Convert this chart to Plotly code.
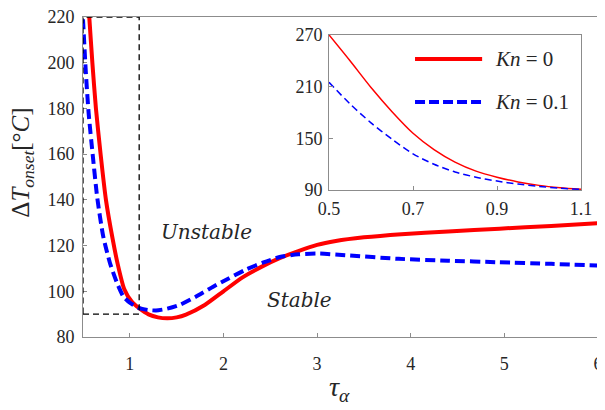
import plotly.graph_objects as go

# ---- data ----
tau_kn0 = [0.50, 0.53, 0.567, 0.60, 0.638, 0.688, 0.745, 0.816, 0.87, 0.94, 1.02, 1.10,
           1.20, 1.30, 1.40, 1.50, 1.60, 1.80, 2.00, 2.20, 2.42, 2.60, 2.80, 3.00, 3.20, 3.50,
           3.90, 4.40, 4.95, 5.50, 6.00]
dT_kn0 = [270, 244, 220, 200, 180, 160, 140, 123, 112, 101, 95.5, 92.6,
          89.9, 88.6, 88.2, 88.6, 89.8, 94, 100, 106, 111, 114.5, 117.6, 120.3, 122, 123.6,
          125, 126.2, 127.4, 128.6, 129.8]

tau_kn01 = [0.50, 0.53, 0.56, 0.603, 0.652, 0.716, 0.787, 0.86, 0.93, 1.00, 1.10,
            1.20, 1.28, 1.40, 1.53, 1.70, 1.89, 2.05, 2.24, 2.42, 2.60, 2.80, 3.02, 3.30,
            3.87, 4.40, 4.94, 5.50, 6.00]
dT_kn01 = [219, 196, 178, 160, 141, 124, 112.5, 104, 97.8, 95, 92.6,
           91.8, 91.6, 92.4, 94, 97.5, 102, 105.5, 109.5, 112.5, 115, 116.2, 116.5, 115.8,
           114.2, 113.4, 112.7, 112, 111.3]

inset_tau = [0.5, 0.55, 0.6, 0.65, 0.7, 0.75, 0.8, 0.85, 0.9, 0.95, 1.0, 1.05, 1.1]
inset_kn0 = [270, 240, 209, 181, 156, 137, 122.5, 112, 105, 99.5, 95.5, 92.8, 91]
inset_kn01 = [215, 190, 168, 149, 132, 120, 111, 105, 100.5, 97, 94.3, 92.2, 90.8]

main_xticks = [1, 2, 3, 4, 5, 6]
main_yticks = [80, 100, 120, 140, 160, 180, 200, 220]
inset_xticks = [0.5, 0.7, 0.9, 1.1]
inset_yticks = [90, 150, 210, 270]

zoom_box_x = [0.5, 1.1]
zoom_box_y = [90, 220]

legend_labels = ["<i>Kn</i> = 0", "<i>Kn</i> = 0.1"]
region_labels = ["<i>Unstable</i>", "<i>Stable</i>"]
region_pos = [(1.82, 125.8), (2.81, 96)]

RED = "#ff0000"
BLUE = "#0000ff"
AXC = "#8c8c8c"
TXT = "#262626"
SERIF = "'Liberation Serif', 'DejaVu Serif', 'Times New Roman', serif"
SERIF_WIDE = "'DejaVu Serif', 'Liberation Serif', serif"

fig = go.Figure()

# main curves
fig.add_trace(go.Scatter(x=tau_kn0, y=dT_kn0, mode="lines",
                         line=dict(color=RED, width=4, shape="spline", smoothing=0.6),
                         showlegend=False, xaxis="x", yaxis="y"))
fig.add_trace(go.Scatter(x=tau_kn01, y=dT_kn01, mode="lines",
                         line=dict(color=BLUE, width=4, dash="10px,5px", shape="spline", smoothing=0.6),
                         showlegend=False, xaxis="x", yaxis="y"))

# inset curves
fig.add_trace(go.Scatter(x=inset_tau, y=inset_kn0, mode="lines",
                         line=dict(color=RED, width=1.5, shape="spline", smoothing=0.8),
                         showlegend=False, xaxis="x2", yaxis="y2"))
fig.add_trace(go.Scatter(x=inset_tau, y=inset_kn01, mode="lines",
                         line=dict(color=BLUE, width=1.5, dash="7px,4px", shape="spline", smoothing=0.8),
                         showlegend=False, xaxis="x2", yaxis="y2"))

# zoom box (dashed black)
fig.add_shape(type="rect", xref="x", yref="y",
              x0=zoom_box_x[0], x1=zoom_box_x[1], y0=zoom_box_y[0], y1=zoom_box_y[1],
              line=dict(color="black", width=1.3, dash="6px,4px"), layer="above")

# manual legend inside the inset
leg_y = [0.869, 0.734]
leg_styles = [dict(color=RED, width=4), dict(color=BLUE, width=4, dash="10px,4px")]
for yy, st, lab in zip(leg_y, leg_styles, legend_labels):
    fig.add_shape(type="line", xref="paper", yref="paper",
                  x0=0.6447, x1=0.775, y0=yy, y1=yy, line=st)
    fig.add_annotation(xref="paper", yref="paper", x=0.797, y=yy, text=lab,
                       showarrow=False, xanchor="left", yanchor="middle",
                       font=dict(family=SERIF, size=21, color=TXT))

# region labels
for (xx, yy), lab in zip(region_pos, region_labels):
    fig.add_annotation(x=xx, y=yy, xref="x", yref="y", text=lab, showarrow=False,
                       xanchor="center", yanchor="middle",
                       font=dict(family=SERIF_WIDE, size=20, color=TXT))

# axis titles
fig.add_annotation(xref="paper", yref="paper", x=-0.117, y=0.544, textangle=-90,
                   xanchor="center", yanchor="middle",
                   text="Δ<i>T</i><sub><i>onset</i></sub>[°<i>C</i>]", showarrow=False,
                   font=dict(family=SERIF, size=25, color=TXT))
fig.add_annotation(xref="paper", yref="paper", x=0.499, y=-0.16,
                   xanchor="center", yanchor="middle",
                   text="<i>τ</i><sub><i>α</i></sub>", showarrow=False,
                   font=dict(family=SERIF, size=28, color=TXT))

axis_common = dict(showline=True, linecolor=AXC, linewidth=1, mirror=True,
                   ticks="inside", ticklen=4, tickcolor=AXC, showgrid=False,
                   zeroline=False, automargin=False, ticklabeloverflow="allow",
                   tickfont=dict(family=SERIF, size=18, color=TXT))

# the page body adds an 8px offset, so the figure is 8px smaller than the window
fig.update_layout(
    width=597, height=402,
    margin=dict(l=75, r=7, t=9, b=73),
    paper_bgcolor="white", plot_bgcolor="white",
    xaxis=dict(range=[0.5, 6], tickvals=main_xticks, domain=[0, 1],
               ticklabelstandoff=10, **axis_common),
    yaxis=dict(range=[80, 220], tickvals=main_yticks, domain=[0, 1],
               ticklabelstandoff=4, **axis_common),
    xaxis2=dict(range=[0.5, 1.1], tickvals=inset_xticks, anchor="y2",
                domain=[0.4777, 0.967], ticklabelstandoff=2,
                tickformat=".1f", **axis_common),
    yaxis2=dict(range=[90, 270], tickvals=inset_yticks, anchor="x2",
                domain=[0.459, 0.944], ticklabelstandoff=2, **axis_common),
)

fig.write_html("out.html")
